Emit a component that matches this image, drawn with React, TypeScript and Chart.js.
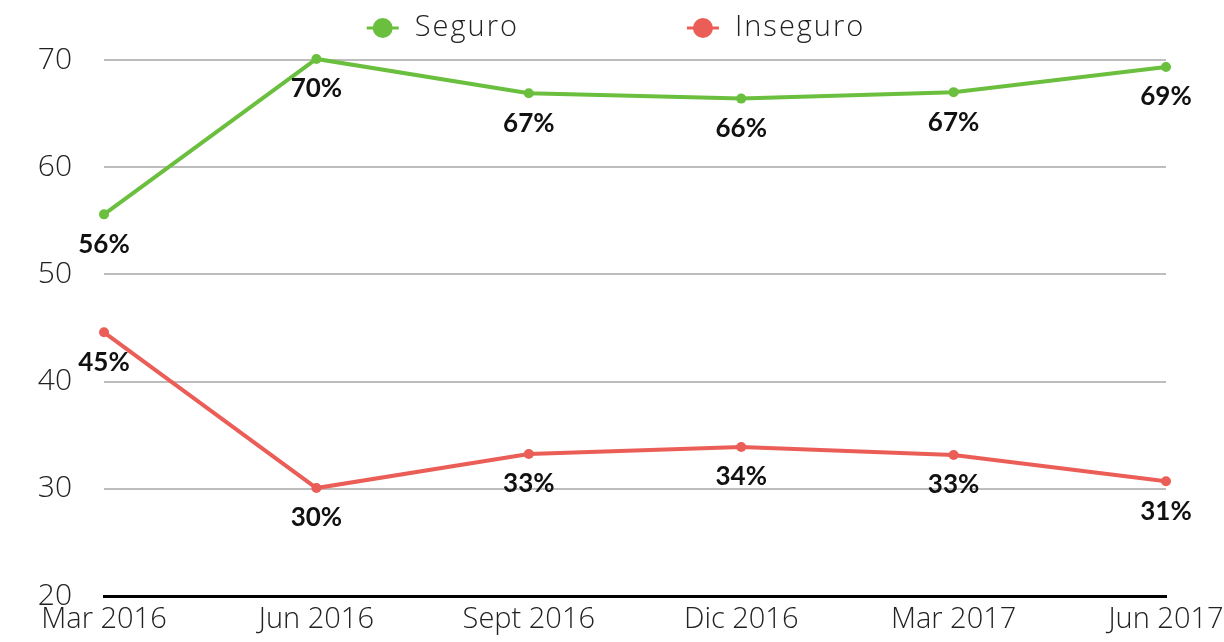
import React, { useEffect, useRef } from "react";
import { Chart, registerables } from "chart.js";

Chart.register(...registerables);

const categories = ["Mar 2016", "Jun 2016", "Sept 2016", "Dic 2016", "Mar 2017", "Jun 2017"];
const seguro = [55.6, 70.1, 66.9, 66.4, 67.0, 69.35];
const inseguro = [44.6, 30.07, 33.25, 33.9, 33.15, 30.7];
const seriesNames = ["Seguro", "Inseguro"];
const yMin = 20;
const yMax = 70;
const yStep = 10;

const GREEN = "#6bbf3e";
const RED = "#eb5e57";
const LABEL_FONT = "Lato";
const TICK_FONT = "'Open Sans'";

const dataLabelPlugin = {
  id: "dataLabelsBelow",
  afterDatasetsDraw(chart: any) {
    const ctx = chart.ctx;
    ctx.save();
    ctx.font = `bold 26px ${LABEL_FONT}`;
    ctx.fillStyle = "#111";
    ctx.textAlign = "center";
    ctx.textBaseline = "middle";
    chart.data.datasets.forEach((ds: any, i: number) => {
      const meta = chart.getDatasetMeta(i);
      meta.data.forEach((el: any, j: number) => {
        ctx.fillText(`${Math.round(ds.data[j])}%`, el.x, el.y + 30);
      });
    });
    ctx.restore();
  },
};

const legendPlugin = {
  id: "lineLegend",
  afterDraw(chart: any) {
    const ctx = chart.ctx;
    ctx.save();
    ctx.font = `300 29px ${TICK_FONT}`;
    try { (ctx as any).letterSpacing = "2px"; } catch (e) {}
    ctx.textBaseline = "middle";
    ctx.textAlign = "left";
    const markerW = 32;
    const markerToText = 16;
    const itemGap = 168;
    const items = chart.data.datasets.map((ds: any) => ({
      text: ds.label,
      color: ds.borderColor,
      w: markerW + markerToText + ctx.measureText(ds.label).width,
    }));
    const total = items.reduce((s: number, it: any) => s + it.w, 0) + itemGap * (items.length - 1);
    let x = 616 - total / 2;
    const y = 28;
    items.forEach((it: any) => {
      ctx.strokeStyle = it.color;
      ctx.fillStyle = it.color;
      ctx.lineWidth = 3;
      ctx.beginPath();
      ctx.moveTo(x, y);
      ctx.lineTo(x + markerW, y);
      ctx.stroke();
      ctx.beginPath();
      ctx.arc(x + markerW / 2, y, 10, 0, Math.PI * 2);
      ctx.fill();
      ctx.fillStyle = "#222";
      ctx.fillText(it.text, x + markerW + markerToText, y);
      x += it.w + itemGap;
    });
    ctx.restore();
  },
};

function App() {
  const canvasRef = useRef<HTMLCanvasElement | null>(null);

  useEffect(() => {
    const canvas = canvasRef.current;
    if (!canvas) return;
    const chart = new Chart(canvas, {
      type: "line",
      data: {
        labels: categories,
        datasets: [
          {
            label: seriesNames[0],
            data: seguro,
            borderColor: GREEN,
            backgroundColor: GREEN,
            pointBackgroundColor: GREEN,
            borderWidth: 4,
            pointRadius: 5,
            pointBorderWidth: 0,
            tension: 0,
            clip: false,
          },
          {
            label: seriesNames[1],
            data: inseguro,
            borderColor: RED,
            backgroundColor: RED,
            pointBackgroundColor: RED,
            borderWidth: 4,
            pointRadius: 5,
            pointBorderWidth: 0,
            tension: 0,
            clip: false,
          },
        ],
      },
      options: {
        responsive: false,
        animation: false,
        layout: { padding: { top: 60, left: 0, right: 58, bottom: 0 } },
        plugins: {
          legend: { display: false },
          tooltip: { enabled: false },
        },
        scales: {
          x: {
            offset: false,
            grid: { display: false, drawTicks: false },
            border: { display: true, color: "#000", width: 3 },
            ticks: {
              color: "#222",
              font: { family: TICK_FONT, size: 29, weight: "300" },
              padding: 6,
              maxRotation: 0,
              autoSkip: false,
            },
            afterFit(scale: any) {
              scale.height = 46;
              scale.paddingLeft = 0;
              scale.paddingRight = 0;
            },
          },
          y: {
            min: yMin,
            max: yMax,
            grid: {
              drawTicks: false,
              lineWidth: 2,
              color: (c: any) => (c.tick && c.tick.value === yMin ? "rgba(0,0,0,0)" : "#bdbdbd"),
            },
            border: { display: false },
            ticks: {
              stepSize: yStep,
              color: "#222",
              font: { family: TICK_FONT, size: 30, weight: "300" },
              padding: 32,
            },
            afterFit(scale: any) {
              scale.width = 104;
              scale.paddingTop = 0;
              scale.paddingBottom = 0;
            },
          },
        },
      },
      plugins: [dataLabelPlugin, legendPlugin],
    });
    return () => chart.destroy();
  }, []);

  return (
    <div style={{ position: "absolute", left: 0, top: 0, width: 1224, height: 642, background: "#fff" }}>
      <canvas ref={canvasRef} width={1224} height={642} style={{ display: "block" }} />
    </div>
  );
}

export default App;
